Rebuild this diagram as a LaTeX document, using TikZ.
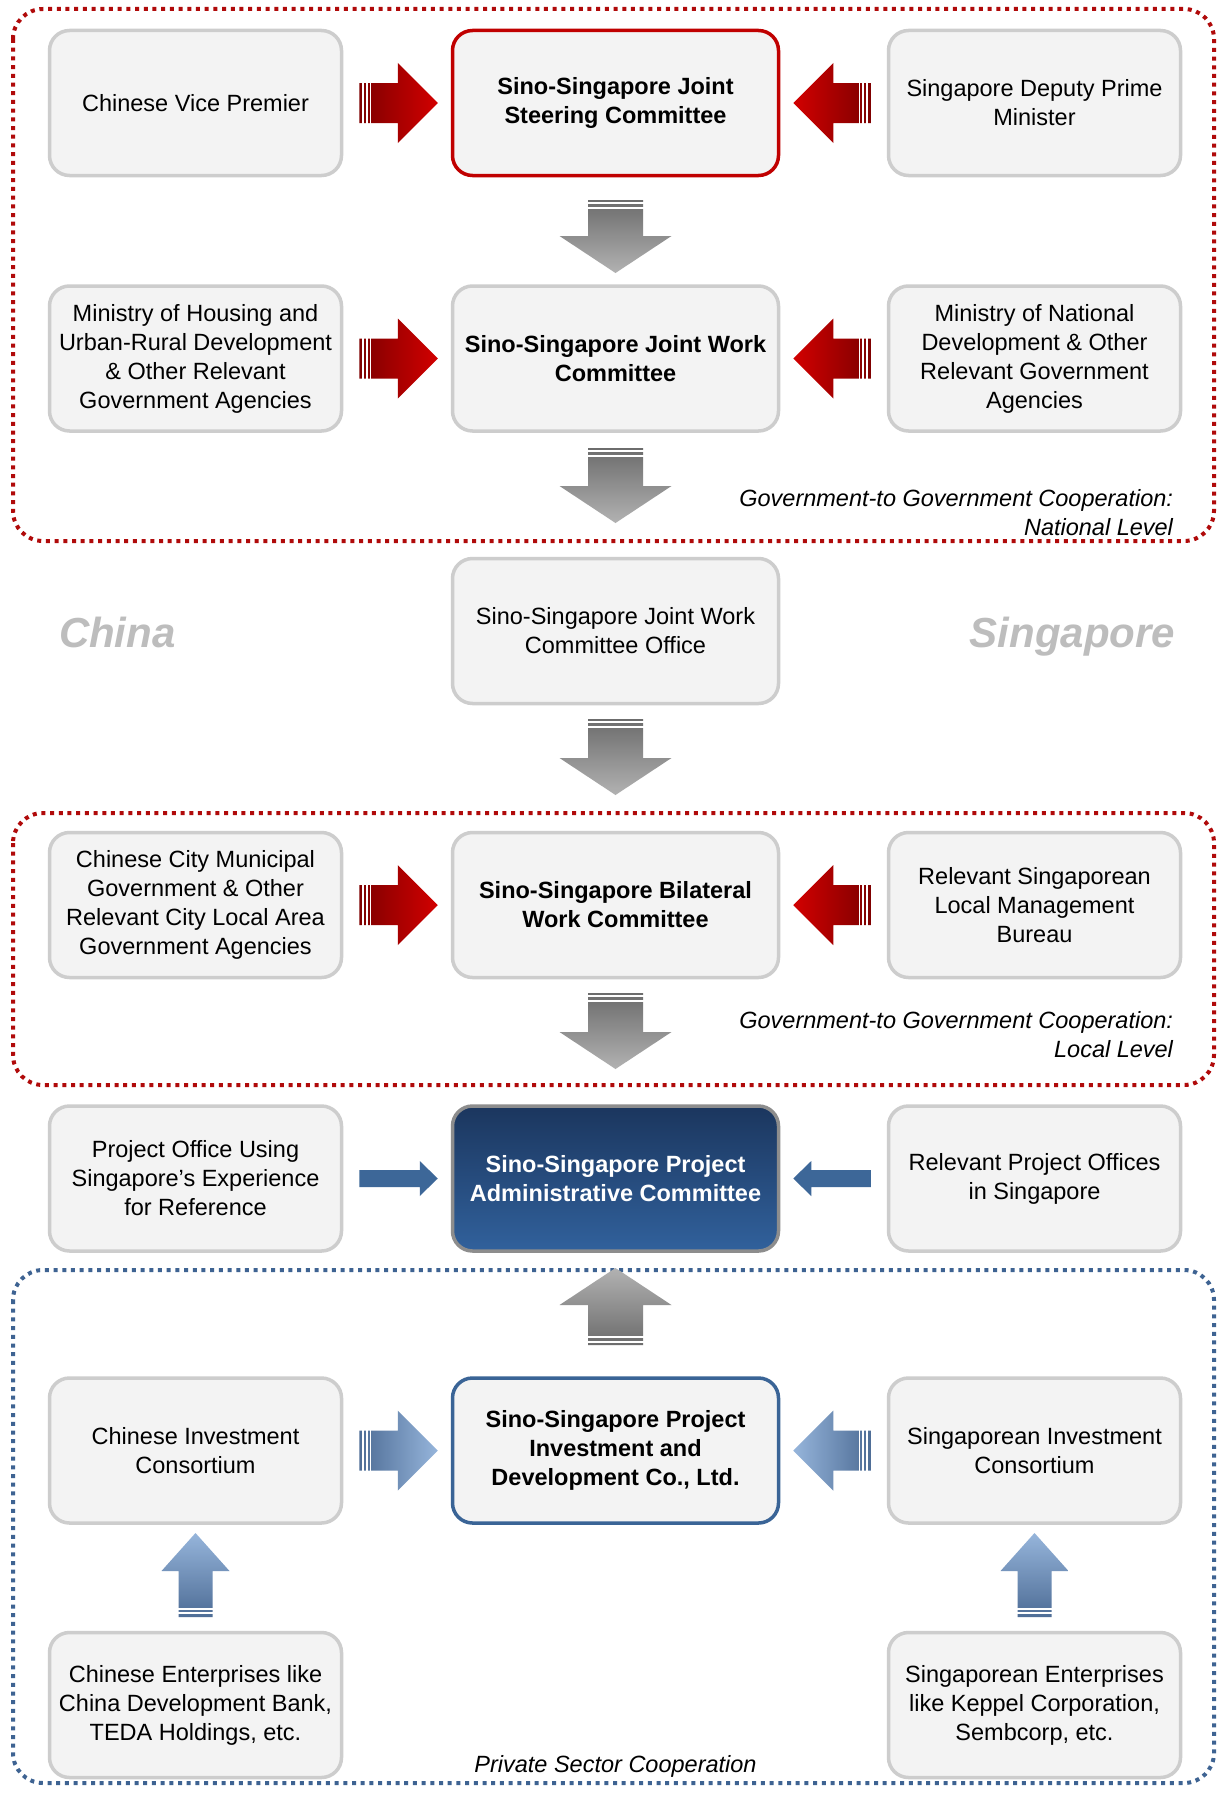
\documentclass[tikz,border=0pt]{standalone}
\usepackage{fontspec}
\setmainfont{Liberation Sans}
\usetikzlibrary{calc}

\definecolor{boxfill}{HTML}{F3F3F3}
\definecolor{boxline}{HTML}{CDCDCD}
\definecolor{redline}{HTML}{C00000}
\definecolor{reddot}{HTML}{B00A0A}
\definecolor{bluedot}{HTML}{3E6392}
\definecolor{redtail}{HTML}{7E0000}
\definecolor{redhead}{HTML}{D20000}
\definecolor{graytail}{HTML}{6C6C6C}
\definecolor{grayhead}{HTML}{B2B2B2}
\definecolor{bluearrow}{HTML}{3D6798}
\definecolor{bluetail}{HTML}{4E6D96}
\definecolor{bluehead}{HTML}{96B5DB}
\definecolor{navytop}{HTML}{1B365E}
\definecolor{navybot}{HTML}{31619C}
\definecolor{admline}{HTML}{8D8D8D}
\definecolor{invline}{HTML}{3A6496}
\definecolor{countrygray}{HTML}{BDBDBD}

% block arrow from tail #1 to tip #2: shaft half width #3, head half width #4, head length #5, paint #6
\newcommand{\blockarrow}[6]{%
  \coordinate (ab) at ($(#2)!#5!(#1)$);
  \path[#6] ($(#1)!#3!90:(#2)$) -- ($(ab)!#3!90:(#2)$) -- ($(ab)!#4!90:(#2)$) -- (#2)
    -- ($(ab)!#4!-90:(#2)$) -- ($(ab)!#3!-90:(#2)$) -- ($(#1)!#3!-90:(#2)$) -- cycle;
}
% white bar across an arrow shaft at distance #3 from its tail, half length #4, thickness #5
\newcommand{\tailstripe}[5]{%
  \coordinate (as) at ($(#1)!#3!(#2)$);
  \draw[white, line width=#5] ($(as)!#4!90:(#2)$) -- ($(as)!#4!-90:(#2)$);
}
\newcommand{\threestripes}[2]{%
  \tailstripe{#1}{#2}{4pt}{21pt}{1.6pt}%
  \tailstripe{#1}{#2}{8pt}{21pt}{1.6pt}%
  \tailstripe{#1}{#2}{11.6pt}{21pt}{1.2pt}%
}
\newcommand{\graystripes}[2]{%
  \tailstripe{#1}{#2}{3.3pt}{29pt}{2pt}%
  \tailstripe{#1}{#2}{8pt}{29pt}{2.6pt}%
}

\tikzset{
  txt/.style={inner sep=0pt, outer sep=0pt, align=center, font=\fontsize{23.5}{29}\selectfont},
  box/.style={txt, draw=boxline, fill=boxfill, line width=3.5pt, rounded corners=20pt,
    minimum width=292pt, minimum height=145pt},
  widebox/.style={box, minimum width=326pt},
  keybox/.style={widebox, font=\bfseries\fontsize{23.5}{29}\selectfont},
  steerbox/.style={keybox, draw=redline},
  adminbox/.style={keybox, draw=admline, top color=navytop, bottom color=navybot, text=white},
  investbox/.style={keybox, draw=invline},
  note/.style={inner sep=0pt, outer sep=0pt, align=right, font=\itshape\fontsize{23.5}{29}\selectfont},
  country/.style={inner sep=0pt, outer sep=0pt, font=\bfseries\itshape\fontsize{42}{50}\selectfont, text=countrygray},
  region/.style={line width=4pt, dash pattern=on 4pt off 4.7pt, rounded corners=30pt},
  redright/.style={left color=redtail, right color=redhead},
  redleft/.style={left color=redhead, right color=redtail},
  blueright/.style={left color=bluetail, right color=bluehead},
  blueleft/.style={left color=bluehead, right color=bluetail},
  blueup/.style={top color=bluehead, bottom color=bluetail},
  graydown/.style={top color=graytail, bottom color=grayhead},
  grayup/.style={top color=grayhead, bottom color=graytail},
}

\begin{document}
\begin{tikzpicture}[x=1pt,y=-1pt]
\useasboundingbox (0,0) rectangle (1217,1793);
\fill[white] (0,0) rectangle (1217,1793);

% dotted cooperation frames
\draw[region, draw=reddot] (13,9) rectangle (1214,541);
\draw[region, draw=reddot] (13,813) rectangle (1214,1085);
\draw[region, draw=bluedot] (13,1270) rectangle (1214,1783);

% national level
\node[box] (cvp) at (195.5,103) {Chinese Vice Premier};
\node[steerbox] (jsc) at (615.5,103) {Sino-Singapore Joint\\Steering Committee};
\node[box] (sdpm) at (1034.5,103) {Singapore Deputy Prime\\Minister};

\node[box] (moh) at (195.5,358.5) {Ministry of Housing and\\Urban-Rural Development\\\& Other Relevant\\Government Agencies};
\node[keybox] (jwc) at (615.5,358.5) {Sino-Singapore Joint Work\\Committee};
\node[box] (mnd) at (1034.5,358.5) {Ministry of National\\Development \& Other\\Relevant Government\\Agencies};

\node[note, anchor=south east] (natnote) at (1173,535.5) {Government-to Government Cooperation:\\National Level};

% joint work committee office
\node[country, anchor=base west] (china) at (59,647) {China};
\node[country, anchor=base east] (singapore) at (1175,647) {Singapore};
\node[widebox] (jwo) at (615.5,631) {Sino-Singapore Joint Work\\Committee Office};

% local level
\node[box] (ccm) at (195.5,905) {Chinese City Municipal\\Government \& Other\\Relevant City Local Area\\Government Agencies};
\node[keybox] (bwc) at (615.5,905) {Sino-Singapore Bilateral\\Work Committee};
\node[box] (slm) at (1034.5,905) {Relevant Singaporean\\Local Management\\Bureau};

\node[note, anchor=south east] (locnote) at (1173,1058) {Government-to Government Cooperation:\\Local Level};

% administrative committee
\node[box] (poe) at (195.5,1178.5) {Project Office Using\\Singapore’s Experience\\for Reference};
\node[adminbox] (pac) at (615.5,1178.5) {Sino-Singapore Project\\Administrative Committee};
\node[box] (rpo) at (1034.5,1178.5) {Relevant Project Offices\\in Singapore};

% private sector
\node[box] (cic) at (195.5,1450.5) {Chinese Investment\\Consortium};
\node[investbox] (idc) at (615.5,1450.5) {Sino-Singapore Project\\Investment and\\Development Co., Ltd.};
\node[box] (sic) at (1034.5,1450.5) {Singaporean Investment\\Consortium};

\node[box] (ce) at (195.5,1705) {Chinese Enterprises like\\China Development Bank,\\TEDA Holdings, etc.};
\node[box] (se) at (1034.5,1705) {Singaporean Enterprises\\like Keppel Corporation,\\Sembcorp, etc.};

\node[note, anchor=base] (privnote) at (615.5,1772) {Private Sector Cooperation};

% red side arrows on the government levels
\foreach \l/\c/\r in {cvp/jsc/sdpm, moh/jwc/mnd, ccm/bwc/slm} {
  \coordinate (\l-t) at ($(\l.east)+(17.75,0)$);
  \coordinate (\l-h) at ($(\c.west)+(-14.75,0)$);
  \blockarrow{\l-t}{\l-h}{20pt}{40pt}{40pt}{redright}
  \threestripes{\l-t}{\l-h}
  \coordinate (\r-t) at ($(\r.west)+(-17.75,0)$);
  \coordinate (\r-h) at ($(\c.east)+(14.75,0)$);
  \blockarrow{\r-t}{\r-h}{20pt}{40pt}{40pt}{redleft}
  \threestripes{\r-t}{\r-h}
}

% gray arrows down the central column
\coordinate (g1t) at ($(jsc.south)+(0,24.5)$);
\coordinate (g1h) at ($(jwc.north)+(0,-13)$);
\coordinate (g2t) at ($(jwc.south)+(0,17)$);
\coordinate (g2h) at ($(jwo.north)+(0,-35.5)$);
\coordinate (g3t) at ($(jwo.south)+(0,15.5)$);
\coordinate (g3h) at ($(bwc.north)+(0,-37.5)$);
\coordinate (g4t) at ($(bwc.south)+(0,15.5)$);
\coordinate (g4h) at ($(pac.north)+(0,-37)$);
\foreach \a in {g1,g2,g3,g4} {
  \blockarrow{\a t}{\a h}{27.5pt}{56pt}{37pt}{graydown}
  \graystripes{\a t}{\a h}
}
\coordinate (g5t) at ($(idc.north)+(0,-33)$);
\coordinate (g5h) at ($(pac.south)+(0,17)$);
\blockarrow{g5t}{g5h}{27.5pt}{56pt}{37pt}{grayup}
\graystripes{g5t}{g5h}

% flat blue arrows into the administrative committee
\coordinate (b1t) at ($(poe.east)+(17.75,0)$);
\coordinate (b1h) at ($(pac.west)+(-14.75,0)$);
\blockarrow{b1t}{b1h}{8.5pt}{17.5pt}{18pt}{fill=bluearrow}
\coordinate (b2t) at ($(rpo.west)+(-17.75,0)$);
\coordinate (b2h) at ($(pac.east)+(14.75,0)$);
\blockarrow{b2t}{b2h}{8.5pt}{17.5pt}{18pt}{fill=bluearrow}

% shaded blue arrows of the private sector
\coordinate (p1t) at ($(cic.east)+(17.75,0)$);
\coordinate (p1h) at ($(idc.west)+(-14.75,0)$);
\blockarrow{p1t}{p1h}{20pt}{40pt}{40pt}{blueright}
\threestripes{p1t}{p1h}
\coordinate (p2t) at ($(sic.west)+(-17.75,0)$);
\coordinate (p2h) at ($(idc.east)+(14.75,0)$);
\blockarrow{p2t}{p2h}{20pt}{40pt}{40pt}{blueleft}
\threestripes{p2t}{p2h}

\coordinate (u1t) at ($(ce.north)+(0,-15.5)$);
\coordinate (u1h) at ($(cic.south)+(0,10)$);
\coordinate (u2t) at ($(se.north)+(0,-15.5)$);
\coordinate (u2h) at ($(sic.south)+(0,10)$);
\foreach \a in {u1,u2} {
  \blockarrow{\a t}{\a h}{17pt}{34pt}{38pt}{blueup}
  \tailstripe{\a t}{\a h}{4pt}{18pt}{1.5pt}
  \tailstripe{\a t}{\a h}{8pt}{18pt}{1.5pt}
}
\end{tikzpicture}
\end{document}
